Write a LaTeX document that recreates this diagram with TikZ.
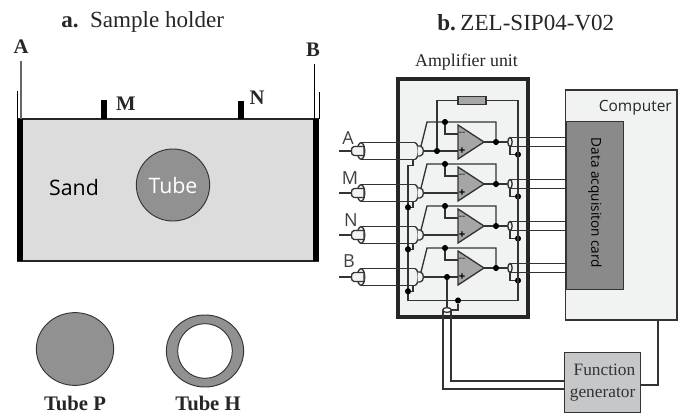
\documentclass[tikz,border=0pt]{standalone}
\usepackage{fontspec}
\setmainfont{Liberation Serif}
\newfontfamily\sansf{Open Sans}
\definecolor{ln}{HTML}{333333}
\definecolor{unitbg}{HTML}{F1F3F3}
\definecolor{sandc}{HTML}{DCDCDC}
\definecolor{tubec}{HTML}{919191}
\definecolor{ampc}{HTML}{A6A6A6}
\definecolor{cardc}{HTML}{8A8A8A}
\definecolor{genc}{HTML}{C6C7C9}
\tikzset{
  wire/.style={draw=ln,line width=1pt,line join=miter},
  dotj/.style={circle,fill=black,inner sep=0pt,minimum size=4.6pt},
  ttl/.style={font=\fontsize{17.3}{19}\selectfont,inner sep=0pt,text=black!85},
  bl/.style={font=\fontsize{15.5}{17}\selectfont\bfseries,inner sep=0pt,text=black!85},
  sl/.style={font=\sansf\fontsize{12}{14}\selectfont,inner sep=0pt,text=black!85},
  elec/.style={fill=black,draw=none},
}
\begin{document}
\begin{tikzpicture}[x=.75pt,y=-.75pt]
\useasboundingbox (0,0) rectangle (684,414);
% --- a. sample holder
\node[ttl,anchor=west] (ta) at (61,22) {\textbf{a.}\hspace{.5em}Sample holder};
\fill[sandc] (22,119) rectangle (313,261);
\draw[black!85,line width=1pt] (17,119) -- (319,119);
\draw[black!85,line width=.9pt] (17,261) -- (319,261);
\fill[elec] (17,119) rectangle (22.5,261);
\fill[elec] (313,119) rectangle (319,261);
\draw[black,line width=.6pt] (17,91) -- (17,119);
\draw[black!60,line width=.9pt] (21,61) -- (21,119);
\draw[black,line width=.6pt] (314,64) -- (314,119);
\draw[black,line width=.6pt] (319,92) -- (319,119);
\fill[elec] (101,100) rectangle (107,119);
\fill[elec] (238,101) rectangle (244,119);
\node[bl] (la) at (21,47) {A};
\node[bl] (lb) at (313,50) {B};
\node[bl] (lm) at (126,104) {M};
\node[bl] (ln) at (257,98) {N};
\node[sl,font=\sansf\fontsize{16}{18}\selectfont,text=black] (sand) at (74,187) {Sand};
\draw[ln,line width=.7pt,fill=tubec] (173,185) ellipse (27.5pt and 27pt);
\node[font=\sansf\fontsize{16}{18}\selectfont,text=white,inner sep=0pt] (tube) at (173,185) {Tube};
\draw[ln,line width=.7pt,fill=tubec] (75,349) ellipse (29pt and 27.3pt);
\draw[ln,line width=.7pt,fill=tubec] (205,351) ellipse (29pt and 27pt);
\draw[ln,line width=.7pt,fill=white] (205,351) ellipse (20.5pt and 20.5pt);
\node[bl] (ltp) at (75,403) {Tube P};
\node[bl] (lth) at (208,403) {Tube H};
% --- b. title
\node[ttl,anchor=west] (tb) at (437,23) {\textbf{b.}\hspace{.2em}ZEL-SIP04-V02};
\node[font=\fontsize{13.4}{15}\selectfont,inner sep=0pt,text=black!85] (au) at (466.5,62) {Amplifier unit};
% --- boxes
\draw[draw=ln,fill=unitbg,line width=.85pt] (565.5,90) rectangle (677,320);
\node[sl,anchor=east,font=\sansf\fontsize{11.6}{14}\selectfont] (cp) at (672,108) {Computer};
\node[draw=ln,line width=.85pt,fill=cardc,minimum width=57*.75pt,minimum height=168*.75pt,inner sep=0pt,anchor=north west] (card) at (565.5,121) {};
\node[rotate=-90,font=\sansf\fontsize{10.2}{13}\selectfont,inner sep=0pt,text=black] (cardt) at (595,203) {Data acquisiton card};
\draw[fill=unitbg,draw=black!85,line width=2.6pt] (398,79) rectangle (528,317);
\node[draw=ln,line width=.85pt,fill=genc,minimum width=76*.75pt,minimum height=60*.75pt,anchor=north west,inner sep=0pt,inner xsep=1pt,align=right,font=\fontsize{13}{16}\selectfont,text=black!80] (gen) at (564,352) {Function\\generator};
% --- resistor
\node[draw=ln,line width=.85pt,fill=ampc,minimum width=28*.75pt,minimum height=8.5*.75pt,inner sep=0pt] (res) at (472,100.5) {};
% --- rows
\foreach \c/\n/\ly/\lx in {142/A/138/348,184/M/178/350,226/N/220/351,268/B/261/349}{
  \pgfmathsetmacro{\yi}{\c+9}
  \pgfmathsetmacro{\ytop}{\yi-8.3}
  \pgfmathsetmacro{\ybot}{\yi+8.3}
  \pgfmathsetmacro{\yf}{\c-20}
  \pgfmathsetmacro{\ym}{\c-8}
  \coordinate (in\n) at (339,\yi);
  \coordinate (pl\n) at (458,\yi);
  \coordinate (mi\n) at (458,\ym);
  \coordinate (out\n) at (484,\c);
  \coordinate (oc\n) at (510,\c);
  \coordinate (fb\n) at (496,\yf);
  \coordinate (fd\n) at (445,\yf);
  \coordinate (fk\n) at (427,\yf);
  % input wire and coax
  \node[sl,font=\sansf\fontsize{13.5}{15}\selectfont,text=black!75] (lab\n) at (\lx,\ly) {\n};
  \draw[wire] (in\n) -- (352,\yi);
  \draw[wire] (361,\ytop) -- (415,\ytop);
  \draw[wire] (361,\ybot) -- (415,\ybot);
  \draw[wire,fill=unitbg] (361,\yi) ellipse (2.8pt and 6.2pt);
  \draw[wire,fill=unitbg] (364,{\yi-4.5}) -- (354,{\yi-4.5}) .. controls (350.5,{\yi-4.5}) and (350.5,{\yi+4.5}) .. (354,{\yi+4.5}) -- (364,{\yi+4.5}) -- cycle;
  \draw[wire,fill=unitbg] (415,\ytop) .. controls (417.5,\ytop) and (418,{\yi-3}) .. (418,\yi) .. controls (418,{\yi+3}) and (417.5,\ybot) .. (415,\ybot);
  \draw[wire,fill=unitbg] (417.5,{\yi-5}) -- (420,{\yi-5}) .. controls (424.5,{\yi-5}) and (424.5,{\yi+5}) .. (420,{\yi+5}) -- (417.5,{\yi+5});
  % to the + input
  \draw[wire] (423.5,\yi) -- (pl\n);
  % feedback
  \draw[wire] (421,{\yi-5}) -- (fk\n) -- (fb\n) -- (496,\c);
  \draw[wire] (fd\n) -- (445,\ym) -- (mi\n);
  % opamp
  \draw[wire,fill=ampc] (458,{\c-17}) -- (out\n) -- (458,{\c+17}) -- cycle;
  \node[font=\sansf\bfseries\fontsize{7.5}{8}\selectfont,inner sep=0pt,text=black!70] (ma\n) at (462,\ym) {--};
  \node[font=\sansf\bfseries\fontsize{8.5}{9}\selectfont,inner sep=0pt,text=black] (pa\n) at (462,\yi) {+};
  % output coax
  \draw[wire] (out\n) -- (oc\n);
  \draw[wire] (510,{\c-4.5}) -- (565.5,{\c-4.5});
  \draw[wire] (510,{\c+4.5}) -- (565.5,{\c+4.5});
  \draw[wire,fill=unitbg] (510,\c) ellipse (1.6pt and 3.4pt);
  \draw[wire] (510,{\c+4.5}) -- (510,{\c+12.5}) -- (518,{\c+12.5});
  \node[dotj] (dd\n) at (518,{\c+12.5}) {};
  \node[dotj] (do\n) at (496,\c) {};
  \node[dotj] (df\n) at (fd\n) {};
  % return to the left bus
  \draw[wire] (413,\ybot) -- (413,{\ybot+6}) -- (408,{\ybot+6});
}
% left bus
\draw[wire] (408,165.3) -- (408,300.5);
\node[dotj] (b1) at (408,207.3) {};
\node[dotj] (b2) at (408,249.3) {};
\node[dotj] (b3) at (408,291.3) {};
% right bus and resistor
\node[dotj] (jr) at (437,151) {};
\draw[wire] (jr) -- (437,100.5) -- (res);
\draw[wire] (res) -- (518,100.5) -- (518,300.5) -- (408,300.5);
\node[dotj] (jb) at (447,277) {};
\node[dotj] (js) at (458,300.5) {};
\draw[wire] (jb) -- (447,308);
\draw[wire] (js) -- (458,310) -- (451,310);
% coax to generator
\coordinate (cxl) at (443,389);
\coordinate (cxr) at (451,381);
\draw[wire] (443,310) -- (cxl) -- (gen.west |- cxl);
\draw[wire] (451,310) -- (cxr) -- (gen.west |- cxr);
\draw[wire,fill=white] (447,310) ellipse (3.2pt and 1.8pt);
% computer to generator
\coordinate (g1) at (658,385);
\draw[wire] (658,320) -- (g1) -- (gen.east |- g1);
\end{tikzpicture}
\end{document}
